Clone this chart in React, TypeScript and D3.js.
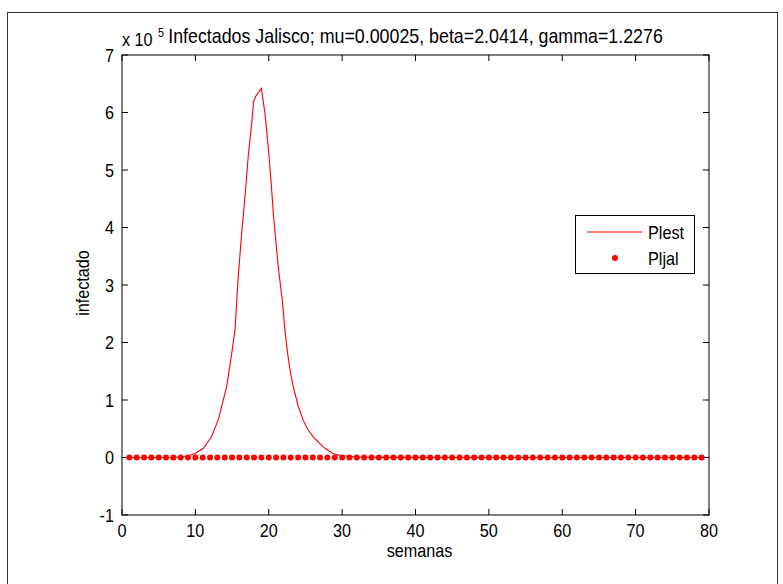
import React from "react";
import * as d3 from "d3";

const W = 783;
const H = 584;

// Plest curve (weeks, value in units of 1e5)
const plestWeeks = [0.5, 5, 7, 8, 9, 9.95, 11.1, 12.2, 13.1, 14.26, 14.95, 15.4, 15.84, 16.31, 16.8, 17.2, 17.67, 17.95, 18.3, 19.0, 19.48, 19.93, 20.3, 20.65, 21.29, 21.84, 22.2, 22.57, 22.95, 23.34, 24.0, 24.7, 25.3, 26.06, 26.9, 27.66, 28.75, 30, 32, 35, 79];
const plestValues = [0, 0, 0.004, 0.01, 0.03, 0.07, 0.16, 0.36, 0.65, 1.23, 1.81, 2.22, 3.14, 3.9, 4.6, 5.23, 5.81, 6.2, 6.3, 6.42, 5.99, 5.4, 4.83, 4.2, 3.32, 2.74, 2.22, 1.81, 1.48, 1.23, 0.9, 0.65, 0.49, 0.36, 0.25, 0.16, 0.07, 0.03, 0.01, 0.002, 0];

// Pljal observed points (weeks 1..79, values in 1e5)
const pljalWeeks = [1,2,3,4,5,6,7,8,9,10,11,12,13,14,15,16,17,18,19,20,21,22,23,24,25,26,27,28,29,30,31,32,33,34,35,36,37,38,39,40,41,42,43,44,45,46,47,48,49,50,51,52,53,54,55,56,57,58,59,60,61,62,63,64,65,66,67,68,69,70,71,72,73,74,75,76,77,78,79];
const pljalValues = pljalWeeks.map(() => 0);

const xTicks = [0, 10, 20, 30, 40, 50, 60, 70, 80];
const yTicks = [-1, 0, 1, 2, 3, 4, 5, 6, 7];

const titleText = "Infectados Jalisco; mu=0.00025, beta=2.0414, gamma=1.2276";
const xLabel = "semanas";
const yLabel = "infectado";
const legendLabels = ["Plest", "Pljal"];

const FONT = "'Liberation Sans', Arial, Helvetica, sans-serif";

export default function App() {
  const left = 122, right = 709, top = 55, bottom = 515;
  const x = d3.scaleLinear().domain([0, 80]).range([left, right]);
  const y = d3.scaleLinear().domain([-1, 7]).range([bottom, top]);
  const line = d3
    .line<number>()
    .x((_, i) => x(plestWeeks[i]))
    .y((d) => y(d));
  const tl = 6;
  const fs = 18;
  const sx = 0.9;
  const red = "#ff0000";

  const T = (props: any) => {
    const { x: tx, y: ty, anchor, children, size, rotate } = props;
    const s = size || fs;
    const tr = rotate
      ? `translate(${tx},${ty}) rotate(-90) scale(${sx},1)`
      : `translate(${tx},${ty}) scale(${sx},1)`;
    return (
      <text transform={tr} textAnchor={anchor || "middle"} fontFamily={FONT} fontSize={s} fill="#000">
        {children}
      </text>
    );
  };

  return (
    <svg width={W} height={H} style={{ position: "absolute", left: 0, top: 0, background: "#fff" }}>
      <rect x={0} y={0} width={W} height={H} fill="#fff" />
      <rect x={7.5} y={12.5} width={770} height={590} fill="none" stroke="#333" strokeWidth={1} />
      {/* axes box */}
      <rect x={left} y={top} width={right - left} height={bottom - top} fill="#fff" stroke="#000" strokeWidth={1} />
      {/* ticks */}
      {xTicks.map((t) => (
        <g key={"xt" + t}>
          <line x1={x(t)} x2={x(t)} y1={bottom} y2={bottom - tl} stroke="#000" />
          <line x1={x(t)} x2={x(t)} y1={top} y2={top + tl} stroke="#000" />
          <T x={x(t)} y={bottom + 22}>{String(t)}</T>
        </g>
      ))}
      {yTicks.map((t) => (
        <g key={"yt" + t}>
          <line x1={left} x2={left + tl} y1={y(t)} y2={y(t)} stroke="#000" />
          <line x1={right} x2={right - tl} y1={y(t)} y2={y(t)} stroke="#000" />
          <T x={left - 8} y={y(t) + 6.5} anchor="end">{String(t)}</T>
        </g>
      ))}
      {/* data */}
      <path d={line(plestValues) || ""} fill="none" stroke={red} strokeWidth={1.1} />
      {pljalWeeks.map((w, i) => (
        <circle key={"p" + i} cx={x(w)} cy={y(pljalValues[i])} r={3} fill={red} />
      ))}
      {/* title */}
      <T x={x(40)} y={43} size={19.8}>{titleText}</T>
      <T x={left} y={46} anchor="start">x 10</T>
      <T x={left + 36} y={37} anchor="start" size={12}>5</T>
      {/* axis labels */}
      <T x={x(40) + 4} y={557}>{xLabel}</T>
      <T x={89} y={y(3) - 2} rotate>{yLabel}</T>
      {/* legend */}
      <rect x={575.5} y={215.5} width={119} height={58} fill="#fff" stroke="#000" />
      <line x1={587} x2={642} y1={232} y2={232} stroke={red} strokeWidth={1.1} />
      <circle cx={615} cy={258} r={3} fill={red} />
      <T x={648} y={239} anchor="start">{legendLabels[0]}</T>
      <T x={648} y={265} anchor="start">{legendLabels[1]}</T>
    </svg>
  );
}
